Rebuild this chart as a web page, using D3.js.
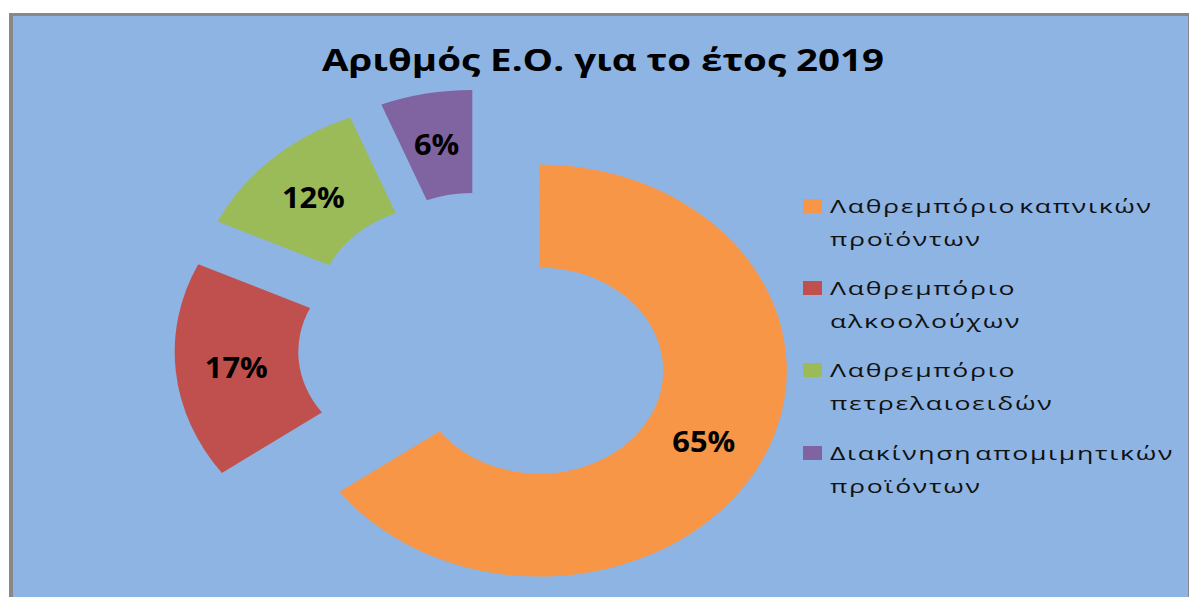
<!DOCTYPE html>
<html><head><meta charset="utf-8">
<script src="https://cdn.jsdelivr.net/npm/d3@7"></script>
<style>html,body{margin:0;padding:0;background:#fff}</style>
</head><body>
<svg id="chart" width="1189" height="597"></svg>
<script>
const title = "Αριθμός Ε.Ο. για το έτος 2019";
const categories = ["Λαθρεμπόριο καπνικών προϊόντων", "Λαθρεμπόριο αλκοολούχων", "Λαθρεμπόριο πετρελαιοειδών", "Διακίνηση απομιμητικών προϊόντων"];
const legendLines = [["Λαθρεμπόριο καπνικών", "προϊόντων"], ["Λαθρεμπόριο", "αλκοολούχων"], ["Λαθρεμπόριο", "πετρελαιοειδών"], ["Διακίνηση απομιμητικών", "προϊόντων"]];
const values = [65, 17, 12, 6];
const colors = ["#F79646", "#C0504D", "#9BBB59", "#8064A2"];

const W = 1189, H = 597;
const svg = d3.select("#chart");

// frame
svg.append("rect").attr("x", 9).attr("y", 13).attr("width", W - 9).attr("height", H - 13).attr("fill", "#888888");
svg.append("rect").attr("x", 13).attr("y", 16).attr("width", W - 14).attr("height", H - 16).attr("fill", "#8EB4E3");

// title
svg.append("text")
  .attr("x", 322).attr("y", 71)
  .attr("textLength", 562).attr("lengthAdjust", "spacingAndGlyphs")
  .style("font-family", "'Open Sans', 'Noto Sans', sans-serif")
  .style("font-weight", "bold").style("font-size", "31px").attr("fill", "#000")
  .text(title);

// donut
const sx = 1.2, cx = 484, cy = 347, rOut = 206, rIn = 103, explode = 52;
const pie = d3.pie().sort(null).value(d => d).startAngle(0).endAngle(2 * Math.PI);
const arcs = pie(values);
const arc = d3.arc().innerRadius(rIn).outerRadius(rOut);
const g = svg.append("g").attr("transform", `translate(${cx},${cy}) scale(${sx},1)`);
arcs.forEach((a, i) => {
  const mid = (a.startAngle + a.endAngle) / 2;
  const ox = explode * Math.sin(mid), oy = -explode * Math.cos(mid);
  g.append("path").attr("d", arc(a)).attr("fill", colors[i])
    .attr("transform", `translate(${ox},${oy})`);
  const c = arc.centroid(a);
  svg.append("text")
    .attr("transform", `translate(${cx + sx * (ox + c[0]) - 1},${cy + oy + c[1] + 1}) scale(1.1,1)`)
    .attr("text-anchor", "middle").attr("dy", "0.36em")
    .style("font-family", "'Open Sans', 'DejaVu Sans', sans-serif")
    .style("font-weight", "bold").style("font-size", "28px").attr("fill", "#000")
    .text(Math.round(values[i] / d3.sum(values) * 100) + "%");
});

// legend
const lg = svg.append("g");
const rowY = [199, 281, 363, 446];
categories.forEach((cat, i) => {
  lg.append("rect").attr("x", 803).attr("y", rowY[i]).attr("width", 19).attr("height", 14).attr("fill", colors[i]);
  legendLines[i].forEach((ln, j) => {
    lg.append("text").attr("class", "lt")
      .attr("transform", `translate(830,${rowY[i] + 14 + j * 33})`)
      .style("font-family", "'Open Sans', 'Noto Sans', sans-serif")
      .style("font-size", "19px").style("letter-spacing", "1.2px").style("word-spacing", "-4px").attr("fill", "#111")
      .text(ln);
  });
});
const first = lg.select("text.lt").node();
const k = 323 / first.getComputedTextLength();
lg.selectAll("text.lt").each(function() {
  const t = d3.select(this).attr("transform");
  d3.select(this).attr("transform", t + ` scale(${k},1)`);
});
</script>
</body></html>
